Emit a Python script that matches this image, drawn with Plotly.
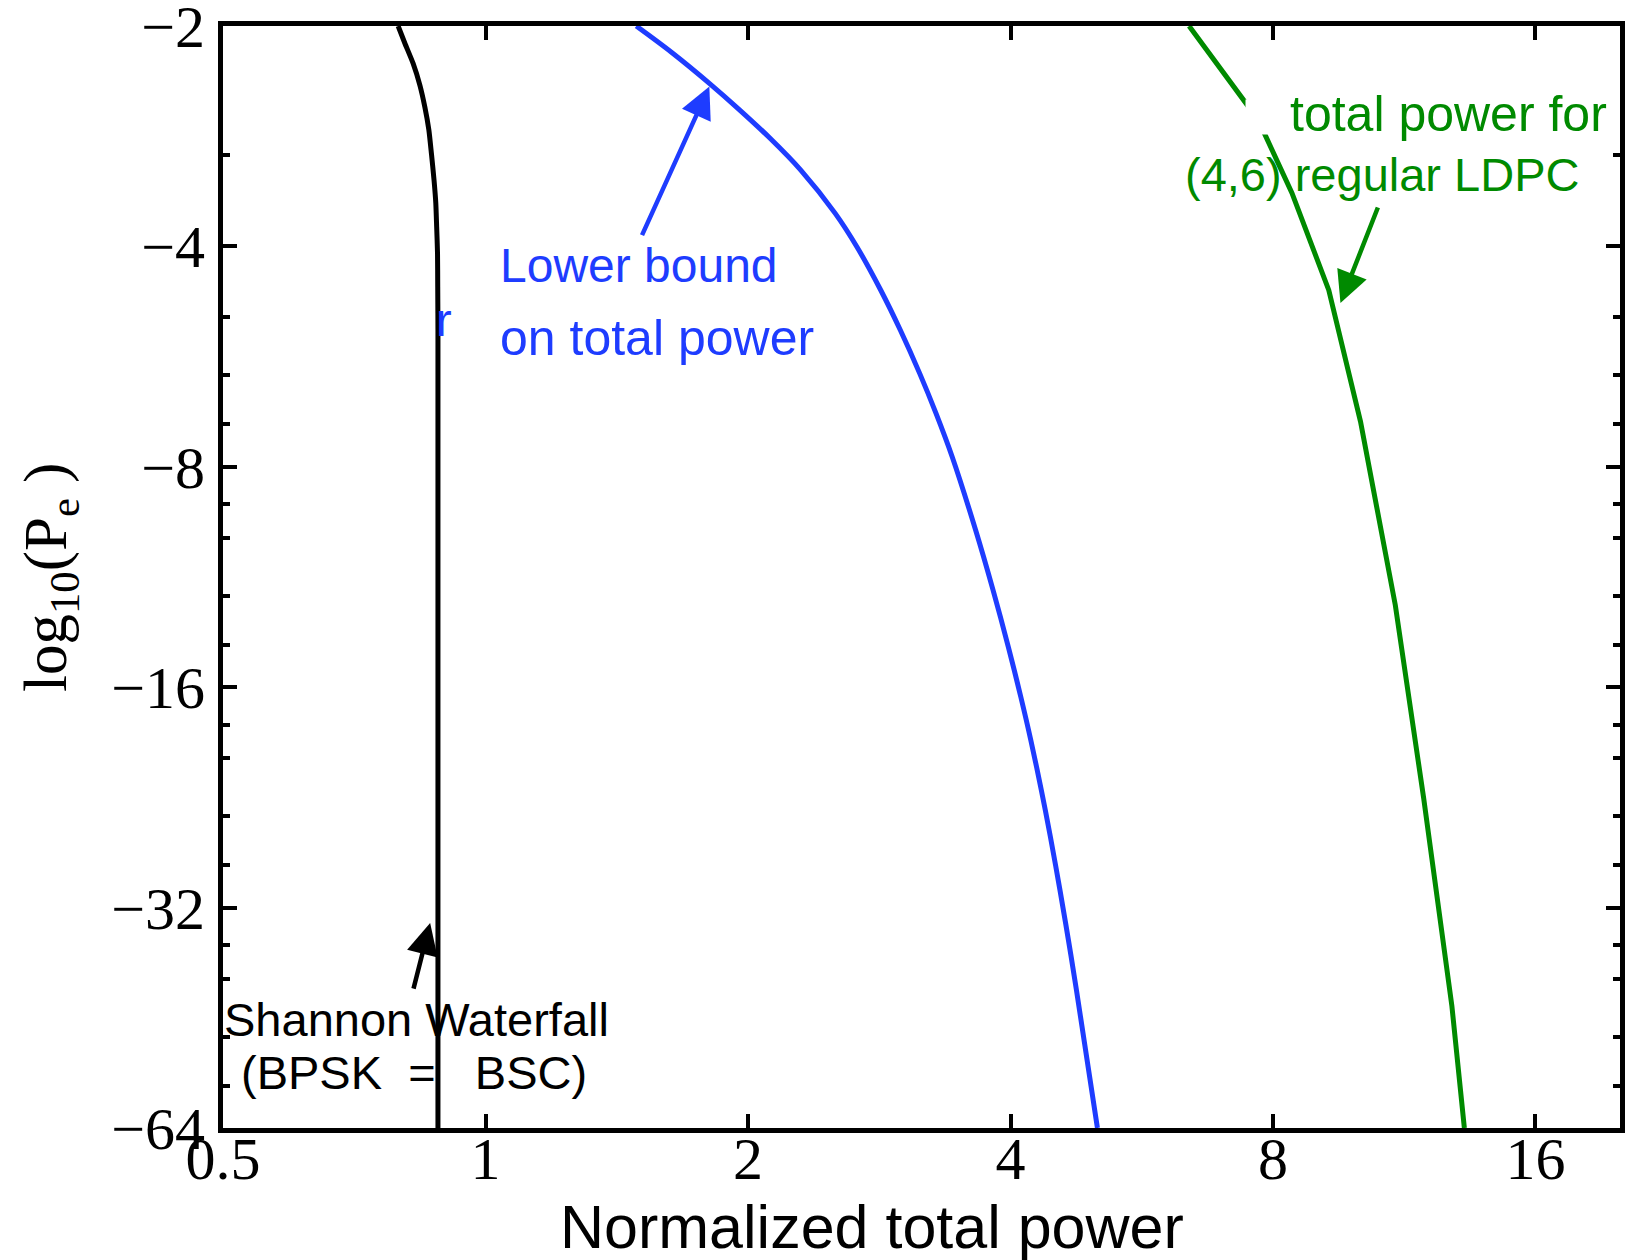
import math
import plotly.graph_objects as go

# ---------------- data ----------------
shannon_power = [0.794, 0.808, 0.826, 0.841, 0.852, 0.861, 0.867, 0.873, 0.877,
                 0.879, 0.881, 0.8815, 0.882, 0.882]
shannon_log10_pe = [-2.0, -2.11, -2.25, -2.41, -2.58, -2.77, -2.99, -3.25, -3.49,
                    -3.76, -4.09, -4.54, -5.2, -64.0]

bound_power = [1.489, 1.638, 1.806, 1.957, 2.120, 2.299, 2.518, 2.666, 2.839,
               2.990, 3.147, 3.286, 3.429, 3.648, 3.820, 3.977, 4.110, 4.220,
               4.339, 4.444, 4.558, 4.661, 4.761, 5.032]
bound_log10_pe = [-2.0, -2.177, -2.395, -2.605, -2.847, -3.146, -3.605, -4.004,
                  -4.588, -5.203, -5.963, -6.762, -7.75, -9.76, -11.79, -14.09,
                  -16.49, -18.89, -22.10, -25.6, -30.28, -35.43, -41.47, -64.0]

ldpc_power = [6.41, 7.69, 8.41, 9.27, 10.08, 11.05, 11.91, 12.83, 13.26]
ldpc_log10_pe = [-2.0, -2.685, -3.38, -4.59, -6.94, -12.36, -22.7, -43.6, -64.0]

x_tick_vals = [0.5, 1, 2, 4, 8, 16]
x_tick_text = ["0.5", "1", "2", "4", "8", "16"]
y_tick_log10_pe = [-2, -4, -8, -16, -32, -64]
y_tick_text = ["\u22122", "\u22124", "\u22128", "\u221216", "\u221232", "\u221264"]
y_minor_log10_pe = [-3, -5, -6, -7, -9, -10, -12, -14, -18, -20, -24, -28,
                    -36, -40, -48, -56]

# arrow tips (power, log10 Pe)
bound_arrow_tip = [1.806, -2.42]
ldpc_arrow_tip = [9.56, -4.78]
shannon_arrow_tip = [0.864, -33.6]

# ---------------- styling ----------------
W, H = 1625, 1260
L, R, T, B = 223, 5, 26, 132
PX0, PX1 = L, W - R
PY0, PY1 = T, H - B

BLUE = "#1e3cff"
GREEN = "#008a00"
SANS = "Liberation Sans, Arial, Helvetica, sans-serif"
SERIF = "Liberation Serif, Times New Roman, serif"
EPS = 1e-6


def xp(px):
    return (px - PX0) / (PX1 - PX0)


def yp(py):
    return (PY1 - py) / (PY1 - PY0)


def neg(vals):
    return [-v for v in vals]


fig = go.Figure()
fig.add_trace(go.Scatter(x=shannon_power, y=neg(shannon_log10_pe), mode="lines",
                         line=dict(color="black", width=5, shape="spline", smoothing=0.6),
                         showlegend=False))
fig.add_trace(go.Scatter(x=bound_power, y=neg(bound_log10_pe), mode="lines",
                         line=dict(color=BLUE, width=5, shape="spline", smoothing=1.0),
                         showlegend=False))
fig.add_trace(go.Scatter(x=ldpc_power, y=neg(ldpc_log10_pe), mode="lines",
                         line=dict(color=GREEN, width=5),
                         showlegend=False))

annotations = []

# white box left over from a hidden label (covers part of the green curve)
annotations.append(dict(text="\u00a0", x=xp(1258), y=yp(117), xref="paper", yref="paper",
                        xanchor="center", yanchor="middle", showarrow=False,
                        width=24, height=34, bgcolor="white", borderpad=0,
                        font=dict(family=SANS, size=10, color="white")))


def text_ann(txt, x_px, y_top_px, color, size, xanchor="left"):
    annotations.append(dict(text=txt, x=xp(x_px), y=yp(y_top_px), xref="paper", yref="paper",
                            xanchor=xanchor, yanchor="top", showarrow=False,
                            font=dict(family=SANS, size=size, color=color)))


text_ann("Lower bound", 498, 237, BLUE, 48)
text_ann("on total power", 498, 308, BLUE, 50)
text_ann("r", 454, 291, BLUE, 47, xanchor="right")
text_ann("total power for", 1288, 84, GREEN, 50)
text_ann("(4,6) regular LDPC", 1183, 146, GREEN, 47)
text_ann("Shannon Waterfall", 222, 991, "black", 47)
text_ann("(BPSK\u00a0\u00a0=\u00a0\u00a0\u00a0BSC)", 239, 1044, "black", 47)


def arrow_ann(tip, ax, ay, color):
    annotations.append(dict(text="", x=math.log10(tip[0]), y=math.log10(-tip[1]),
                            xref="x", yref="y", ax=ax, ay=ay, showarrow=True,
                            arrowhead=2, arrowsize=1.4, arrowwidth=4.5,
                            arrowcolor=color, standoff=0))


arrow_ann(bound_arrow_tip, -68, 150, BLUE)
arrow_ann(ldpc_arrow_tip, 38, -97, GREEN)
arrow_ann(shannon_arrow_tip, -17, 67, "black")

# axis titles
annotations.append(dict(text="Normalized total power", x=xp(872), y=yp(1191), xref="paper",
                        yref="paper", xanchor="center", yanchor="top", showarrow=False,
                        font=dict(family=SANS, size=61, color="black")))
annotations.append(dict(text="log<sub>10</sub>(P<sub>e</sub> )", x=xp(50), y=yp(578),
                        xref="paper", yref="paper", xanchor="center", yanchor="middle",
                        textangle=-90, showarrow=False,
                        font=dict(family=SERIF, size=61, color="black")))

fig.update_layout(
    width=W, height=H,
    margin=dict(l=L, r=R, t=T, b=B, pad=0, autoexpand=False),
    paper_bgcolor="white", plot_bgcolor="white",
    showlegend=False,
    annotations=annotations,
    xaxis=dict(type="log", range=[math.log10(0.5) - EPS, math.log10(20)],
               tickmode="array", tickvals=x_tick_vals, ticktext=x_tick_text,
               ticks="inside", ticklen=14, tickwidth=4, tickcolor="black",
               showline=True, linewidth=5, linecolor="black", mirror="ticks",
               showgrid=False, zeroline=False, ticklabelstandoff=-26,
               ticklabeloverflow="allow", automargin=False,
               tickfont=dict(family=SERIF, size=60, color="black")),
    yaxis=dict(type="log", range=[math.log10(64) + EPS, math.log10(2) - EPS],
               tickmode="array", tickvals=neg(y_tick_log10_pe), ticktext=y_tick_text,
               ticks="inside", ticklen=14, tickwidth=4, tickcolor="black",
               minor=dict(tickmode="array", tickvals=neg(y_minor_log10_pe), ticks="inside",
                          ticklen=7, tickwidth=4, tickcolor="black", showgrid=False),
               showline=True, linewidth=5, linecolor="black", mirror="ticks",
               showgrid=False, zeroline=False, ticklabelstandoff=1,
               ticklabeloverflow="allow", automargin=False,
               tickfont=dict(family=SERIF, size=60, color="black")),
)

fig.write_html("out.html")
